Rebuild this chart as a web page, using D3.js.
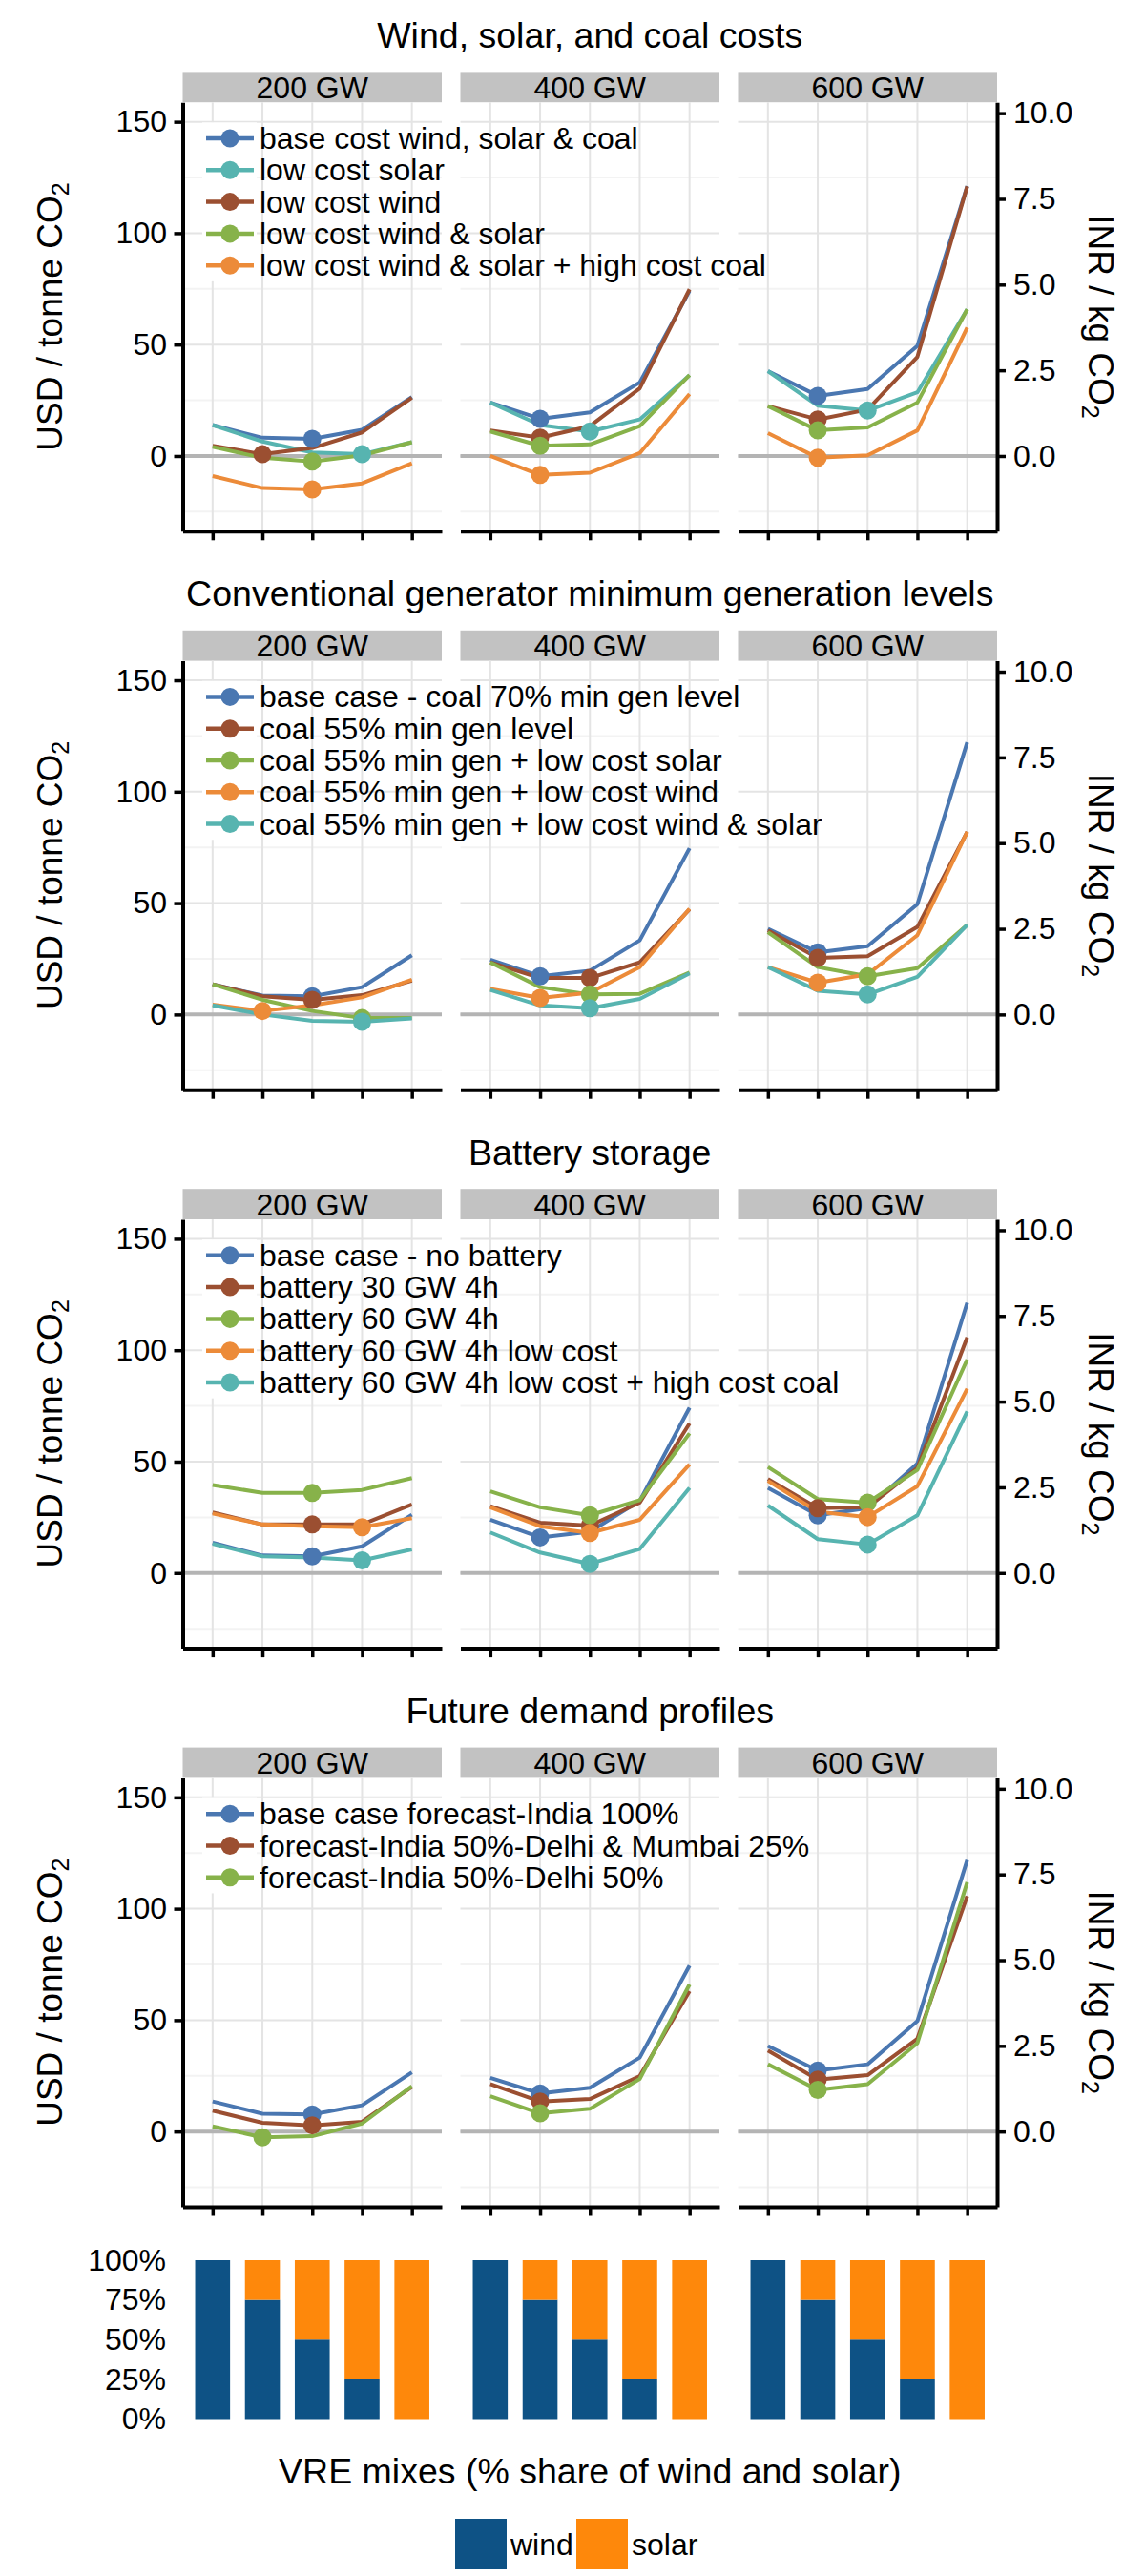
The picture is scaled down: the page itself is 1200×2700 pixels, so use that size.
<!DOCTYPE html>
<html lang="en">
<head>
<meta charset="UTF-8">
<title>Abatement cost by VRE mix</title>
<script src="https://d3js.org/d3.v7.min.js"></script>
<style>
  body { margin: 0; background: #fff; }
  svg { display: block; font-family: "Liberation Sans", Arial, sans-serif; }
</style>
</head>
<body>
<div id="chart"></div>
<script>
// ---- data ----
const facets = ["200 GW", "400 GW", "600 GW"];
const windShare = [100, 75, 50, 25, 0];          // % wind in each VRE mix (rest is solar)
const usdTicks = [0, 50, 100, 150];
const usdMinor = [-25, 25, 75, 125];
const inrTicks = [0, 2.5, 5, 7.5, 10];
const pctTicks = [0, 25, 50, 75, 100];
const inrPerUsd = 65;

const panelTitles = [
  "Wind, solar, and coal costs",
  "Conventional generator minimum generation levels",
  "Battery storage",
  "Future demand profiles"
];

// values: [series][facet][mix], USD / tonne CO2
const costNames = ["base cost wind, solar & coal", "low cost solar", "low cost wind",
  "low cost wind & solar", "low cost wind & solar + high cost coal"];
const costValues = [
  [[13.9, 8.2, 7.7, 11.8, 26.5], [24.0, 16.7, 19.6, 33.0, 74.1], [38.1, 27.0, 30.1, 49.4, 121.1]],
  [[13.9, 6.5, 1.6, 0.8, 6.2], [24.0, 13.9, 11.0, 16.4, 36.3], [38.1, 22.6, 20.4, 28.6, 65.8]],
  [[4.6, 0.8, 3.6, 10.6, 26.2], [11.5, 8.2, 13.4, 30.3, 74.8], [22.4, 16.4, 20.8, 44.5, 121.0]],
  [[4.1, -0.8, -2.5, 0.3, 6.2], [11.0, 4.6, 5.2, 13.4, 36.3], [22.4, 11.5, 12.8, 24.0, 65.8]],
  [[-9.0, -14.4, -15.0, -12.3, -3.3], [0.0, -8.5, -7.5, 1.3, 27.8], [10.3, -0.8, 0.3, 11.5, 57.6]]
];
const costMarks = [[2, 1, 1], [3, 2, 2], [1, 1, 1], [2, 1, 1], [2, 1, 1]];

const minGenNames = ["base case - coal 70% min gen level", "coal 55% min gen level",
  "coal 55% min gen + low cost solar", "coal 55% min gen + low cost wind",
  "coal 55% min gen + low cost wind & solar"];
const minGenValues = [
  [[13.6, 8.5, 8.2, 12.3, 26.6], [24.6, 17.2, 19.7, 33.3, 74.6], [38.5, 27.9, 30.7, 49.5, 122.1]],
  [[13.6, 8.2, 6.6, 8.7, 15.2], [23.4, 16.4, 16.4, 23.4, 47.2], [37.7, 25.4, 26.2, 39.3, 82.0]],
  [[13.6, 6.6, 1.6, -1.6, -1.6], [23.4, 12.3, 9.0, 9.3, 18.9], [36.9, 21.3, 17.2, 20.8, 40.2]],
  [[4.4, 1.6, 4.1, 7.7, 15.6], [11.5, 7.4, 9.8, 21.3, 47.5], [21.3, 14.3, 18.0, 35.6, 82.0]],
  [[4.1, 0.0, -2.8, -3.3, -1.8], [11.0, 4.1, 2.8, 7.0, 18.5], [21.3, 10.7, 9.0, 16.9, 40.2]]
];
const minGenMarks = [[2, 1, 1], [2, 2, 1], [3, 2, 2], [1, 1, 1], [3, 2, 2]];

const batteryNames = ["base case - no battery", "battery 30 GW 4h", "battery 60 GW 4h",
  "battery 60 GW 4h low cost", "battery 60 GW 4h low cost + high cost coal"];
const batteryValues = [
  [[13.6, 7.9, 7.5, 12.0, 26.2], [23.9, 16.0, 18.5, 32.4, 74.2], [38.2, 25.9, 29.1, 49.1, 121.3]],
  [[27.2, 21.8, 21.8, 21.8, 30.8], [30.0, 22.6, 21.3, 31.6, 67.1], [42.2, 29.1, 29.5, 47.2, 105.8]],
  [[39.5, 36.0, 36.0, 37.3, 42.6], [36.7, 29.5, 25.9, 32.7, 62.7], [47.6, 33.2, 31.6, 46.3, 95.8]],
  [[26.7, 21.8, 21.0, 20.6, 24.6], [29.5, 21.0, 18.0, 23.9, 48.8], [41.4, 27.5, 25.1, 39.0, 82.7]],
  [[13.1, 7.5, 7.0, 5.7, 10.6], [18.2, 9.2, 4.1, 10.8, 38.2], [30.3, 15.2, 12.8, 25.9, 72.5]]
];
const batteryMarks = [[2, 1, 1], [2, 2, 1], [2, 2, 2], [3, 2, 2], [3, 2, 2]];

const demandNames = ["base case forecast-India 100%", "forecast-India 50%-Delhi & Mumbai 25%",
  "forecast-India 50%-Delhi 50%"];
const demandValues = [
  [[13.5, 8.0, 7.7, 11.8, 26.6], [24.1, 17.1, 19.7, 33.2, 74.5], [38.4, 27.4, 30.2, 49.6, 121.8]],
  [[9.4, 3.9, 2.8, 4.4, 20.0], [21.3, 13.5, 14.6, 24.9, 63.0], [36.4, 23.3, 25.3, 41.7, 105.7]],
  [[2.3, -2.6, -2.1, 3.6, 20.4], [15.9, 8.2, 10.2, 23.6, 66.0], [30.2, 18.7, 21.3, 39.7, 111.9]]
];
const demandMarks = [[2, 1, 1], [2, 1, 1], [1, 1, 1]];

// ---- colours ----
const blue = "#4a77b1", teal = "#57b4b0", brown = "#9b4f31", green = "#87b24a", orange = "#ec8b39";
const windColor = "#0e5285", solarColor = "#fe880b";

const panels = [
  { names: costNames, values: costValues, marks: costMarks, colors: [blue, teal, brown, green, orange] },
  { names: minGenNames, values: minGenValues, marks: minGenMarks, colors: [blue, brown, green, orange, teal] },
  { names: batteryNames, values: batteryValues, marks: batteryMarks, colors: [blue, brown, green, orange, teal] },
  { names: demandNames, values: demandValues, marks: demandMarks, colors: [blue, brown, green] }
];

// ---- layout ----
const W = 1200, H = 2700;
const plotLeft = 191.5, facetW = 271.5, facetGap = 19.5;
const plotRight = plotLeft + 3 * facetW + 2 * facetGap;
const plotMid = (plotLeft + plotRight) / 2;
const rowStep = 585.4, stripTop0 = 75.4, stripH = 31.8, panelH = 449.6;
const usdDomain = [-33.75, 158.75];

const svg = d3.select('#chart').append('svg')
  .attr('width', W).attr('height', H);
svg.append('rect').attr('width', W).attr('height', H).attr('fill', '#fff');

const facetX = i => plotLeft + i * (facetW + facetGap);
const xScales = facets.map((f, i) => d3.scalePoint()
  .domain(windShare)
  .range([facetX(i), facetX(i) + facetW])
  .padding(0.6));

function styleAxis(g, fontSize) {
  g.select('.domain').attr('stroke', '#000').attr('stroke-width', 4);
  g.selectAll('.tick line').attr('stroke', '#000').attr('stroke-width', 3.5);
  g.selectAll('.tick text').attr('fill', '#000').attr('font-size', fontSize)
    .attr('font-family', '"Liberation Sans", Arial, sans-serif');
}

function co2Label(text, x, y, angle) {
  const t = svg.append('text')
    .attr('transform', `translate(${x},${y}) rotate(${angle})`)
    .attr('text-anchor', 'middle')
    .attr('font-size', 37)
    .attr('fill', '#000');
  t.append('tspan').text(text);
  t.append('tspan').text('2').attr('font-size', 25).attr('dy', 7);
}

panels.forEach((p, r) => {
  const stripTop = stripTop0 + r * rowStep;
  const top = stripTop + stripH;
  const bottom = top + panelH;

  const y = d3.scaleLinear().domain(usdDomain).range([bottom, top]);
  const yInr = d3.scaleLinear()
    .domain(usdDomain.map(v => v * inrPerUsd / 1000))
    .range([bottom, top]);

  svg.append('text')
    .attr('x', plotMid).attr('y', stripTop - 25.4)
    .attr('text-anchor', 'middle')
    .attr('font-size', 37.5)
    .text(panelTitles[r]);

  facets.forEach((f, i) => {
    const x = xScales[i];
    const x0 = facetX(i), x1 = x0 + facetW;
    const g = svg.append('g');

    // strip
    g.append('rect')
      .attr('x', x0).attr('y', stripTop)
      .attr('width', facetW).attr('height', stripH)
      .attr('fill', '#c2c2c2');
    g.append('text')
      .attr('x', (x0 + x1) / 2).attr('y', stripTop + stripH / 2 + 11.5)
      .attr('text-anchor', 'middle').attr('font-size', 32)
      .text(f);

    // grid
    g.selectAll('.gminor').data(usdMinor).enter().append('line')
      .attr('x1', x0).attr('x2', x1)
      .attr('y1', d => y(d)).attr('y2', d => y(d))
      .attr('stroke', '#f3f3f3').attr('stroke-width', 2);
    g.selectAll('.gmajor').data(usdTicks).enter().append('line')
      .attr('x1', x0).attr('x2', x1)
      .attr('y1', d => y(d)).attr('y2', d => y(d))
      .attr('stroke', '#e4e4e4').attr('stroke-width', 2);
    g.selectAll('.gx').data(windShare).enter().append('line')
      .attr('x1', d => x(d)).attr('x2', d => x(d))
      .attr('y1', top).attr('y2', bottom)
      .attr('stroke', '#e4e4e4').attr('stroke-width', 2);

    // zero line
    g.append('line')
      .attr('x1', x0).attr('x2', x1)
      .attr('y1', y(0)).attr('y2', y(0))
      .attr('stroke', '#b4b4b4').attr('stroke-width', 4);

    // bottom axis
    const ax = g.append('g')
      .attr('transform', `translate(0,${bottom})`)
      .call(d3.axisBottom(x).tickSize(9.5).tickSizeOuter(0).tickFormat(''));
    styleAxis(ax, 32);
  });

  // legend key backgrounds (white, under the lines of the first facet)
  const legTop = top + 37.8;
  const legStep = 33.3;
  svg.append('rect')
    .attr('x', 212).attr('y', legTop - legStep / 2)
    .attr('width', 57).attr('height', legStep * p.names.length)
    .attr('fill', '#fff');

  // lines then points
  facets.forEach((f, i) => {
    const x = xScales[i];
    const line = d3.line().x((d, k) => x(windShare[k])).y(d => y(d));
    p.values.forEach((s, k) => {
      svg.append('path')
        .attr('d', line(s[i]))
        .attr('fill', 'none')
        .attr('stroke', p.colors[k])
        .attr('stroke-width', 4)
        .attr('stroke-linejoin', 'round');
    });
  });
  facets.forEach((f, i) => {
    const x = xScales[i];
    p.values.forEach((s, k) => {
      const m = p.marks[k][i];
      svg.append('circle')
        .attr('cx', x(windShare[m])).attr('cy', y(s[i][m]))
        .attr('r', 9.5)
        .attr('fill', p.colors[k]);
    });
  });

  // legend
  p.names.forEach((name, k) => {
    const ly = legTop + k * legStep;
    svg.append('line')
      .attr('x1', 216).attr('x2', 266).attr('y1', ly).attr('y2', ly)
      .attr('stroke', p.colors[k]).attr('stroke-width', 4.5);
    svg.append('circle').attr('cx', 241).attr('cy', ly).attr('r', 9.5)
      .attr('fill', p.colors[k]);
    svg.append('text')
      .attr('x', 272).attr('y', ly + 11)
      .attr('font-size', 32)
      .text(name);
  });

  // left & right axes
  const la = svg.append('g')
    .attr('transform', `translate(${plotLeft},0)`)
    .call(d3.axisLeft(y).tickValues(usdTicks).tickSize(9).tickPadding(7.5).tickSizeOuter(0));
  styleAxis(la, 32);
  const ra = svg.append('g')
    .attr('transform', `translate(${plotRight},0)`)
    .call(d3.axisRight(yInr).tickValues(inrTicks).tickFormat(d3.format('.1f'))
      .tickSize(9).tickPadding(8).tickSizeOuter(0));
  styleAxis(ra, 32);

  co2Label('USD / tonne CO', 65, (top + bottom) / 2, -90);
  co2Label('INR / kg CO', 1141, (top + bottom) / 2, 90);
});

// ---- VRE mix bars ----
const barTop = 2369, barBottom = 2535.5;
const pct = d3.scaleLinear().domain([0, 100]).range([barBottom, barTop]);
const barW = 36.6;

facets.forEach((f, i) => {
  const x = xScales[i];
  const g = svg.append('g');
  g.selectAll('.wind').data(windShare).enter().append('rect')
    .attr('x', d => x(d) - barW / 2).attr('width', barW)
    .attr('y', d => pct(d)).attr('height', d => pct(0) - pct(d))
    .attr('fill', windColor);
  g.selectAll('.solar').data(windShare).enter().append('rect')
    .attr('x', d => x(d) - barW / 2).attr('width', barW)
    .attr('y', pct(100)).attr('height', d => pct(d) - pct(100))
    .attr('fill', solarColor);
});

const pa = svg.append('g')
  .attr('transform', `translate(${plotLeft},0)`)
  .call(d3.axisLeft(pct).tickValues(pctTicks).tickFormat(d => d + '%').tickSize(0).tickPadding(17.5));
pa.select('.domain').remove();
pa.selectAll('.tick text').attr('fill', '#000').attr('font-size', 32)
  .attr('font-family', '"Liberation Sans", Arial, sans-serif');

svg.append('text')
  .attr('x', plotMid).attr('y', 2603)
  .attr('text-anchor', 'middle').attr('font-size', 37.5)
  .text('VRE mixes (% share of wind and solar)');

// bottom legend
const keys = [{ label: 'wind', color: windColor, x: 477 }, { label: 'solar', color: solarColor, x: 604 }];
keys.forEach(k => {
  svg.append('rect').attr('x', k.x).attr('y', 2640)
    .attr('width', 54).attr('height', 53).attr('fill', k.color);
  svg.append('text').attr('x', k.x + 58).attr('y', 2678)
    .attr('font-size', 32).text(k.label);
});
</script>
</body>
</html>
